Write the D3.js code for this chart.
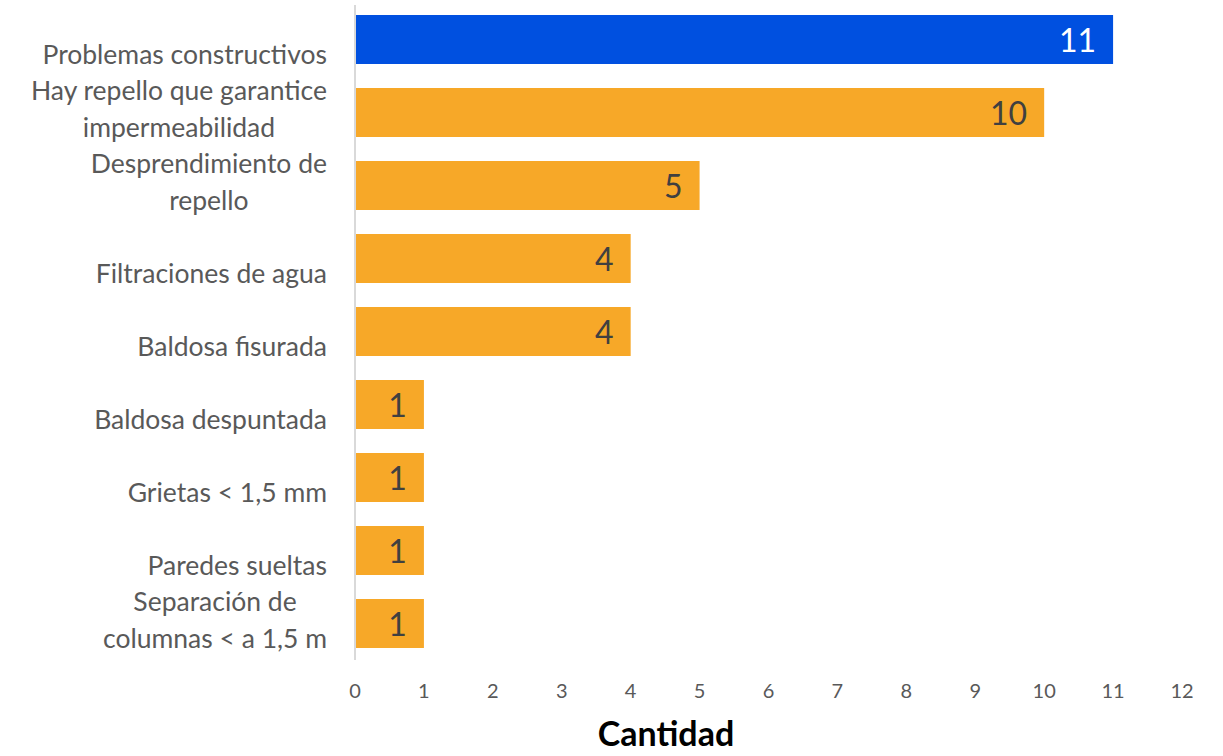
<!DOCTYPE html>
<html>
<head>
<meta charset="utf-8">
<script src="https://cdn.jsdelivr.net/npm/d3@7"></script>
<style>
  body { margin: 0; background: #fff; }
  svg text { font-family: Lato, "Open Sans", sans-serif; }
</style>
</head>
<body>
<div id="chart"></div>
<script>
// data
const categories = [
  "Problemas constructivos",
  "Hay repello que garantice|impermeabilidad",
  "Desprendimiento de|repello",
  "Filtraciones de agua",
  "Baldosa fisurada",
  "Baldosa despuntada",
  "Grietas < 1,5 mm",
  "Paredes sueltas",
  "Separación de|columnas < a 1,5 m"
];
const values = [11, 10, 5, 4, 4, 1, 1, 1, 1];
const xTicks = [0, 1, 2, 3, 4, 5, 6, 7, 8, 9, 10, 11, 12];
const axisTitle = "Cantidad";

const width = 1223, height = 756;
const svg = d3.select("#chart").append("svg").attr("width", width).attr("height", height);

const x = d3.scaleLinear().domain([0, 12]).range([355, 1182]);
const y = d3.scaleBand().domain(categories).range([3, 660]).paddingInner(0.329).paddingOuter(0.1645);

// bars
svg.selectAll("rect.bar")
  .data(categories)
  .enter().append("rect")
  .attr("class", "bar")
  .attr("x", x(0))
  .attr("y", d => y(d))
  .attr("width", (d, i) => x(values[i]) - x(0))
  .attr("height", y.bandwidth())
  .attr("fill", (d, i) => i === 0 ? "#0050E0" : "#F7A828");

// vertical axis line
svg.append("line")
  .attr("x1", x(0)).attr("x2", x(0))
  .attr("y1", 5).attr("y2", 660)
  .attr("stroke", "#d9d9d9").attr("stroke-width", 2);

// value labels
svg.selectAll("text.val")
  .data(categories)
  .enter().append("text")
  .attr("class", "val")
  .attr("x", (d, i) => x(values[i]) - 17)
  .attr("y", d => y(d) + y.bandwidth() / 2 + 12.5)
  .attr("text-anchor", "end")
  .style("font-size", "32px")
  .attr("fill", (d, i) => i === 0 ? "#ffffff" : "#404040")
  .text((d, i) => values[i]);

// category labels: lines centered within a right-aligned block
const labelRight = 327, lineGap = 37;
categories.forEach(c => {
  const lines = c.split("|");
  const cy = y(c) + y.bandwidth() / 2;
  const g = svg.append("g");
  const texts = lines.map((ln, i) => g.append("text")
    .attr("y", cy + 24.5 - (lines.length - 1 - i) * lineGap)
    .attr("text-anchor", "middle")
    .attr("fill", "#595959")
    .style("font-size", "26.5px")
    .text(ln));
  const maxW = d3.max(texts, t => t.node().getComputedTextLength());
  texts.forEach(t => t.attr("x", labelRight - maxW / 2));
});

// x tick labels
svg.selectAll("text.tick")
  .data(xTicks)
  .enter().append("text")
  .attr("class", "tick")
  .attr("x", d => x(d))
  .attr("y", 698)
  .attr("text-anchor", "middle")
  .attr("fill", "#595959")
  .style("font-size", "20px")
  .text(d => d);

// axis title
svg.append("text")
  .attr("x", 666).attr("y", 746)
  .attr("text-anchor", "middle")
  .attr("fill", "#000")
  .style("font-size", "34px")
  .style("font-weight", "bold")
  .text(axisTitle);
</script>
</body>
</html>
